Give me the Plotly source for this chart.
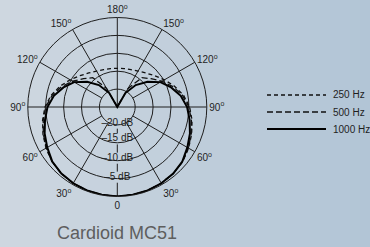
import plotly.graph_objects as go

# ---- data (dB), angles 0..360 every 10 degrees ----
theta = list(range(0, 361, 10))

hz250 = [0, -0.1, -0.2, -0.4, -0.7, -1.2, -2.0, -2.9, -3.8, -4.8, -6.2, -8.0, -9.8, -11.4, -12.6, -13.4, -13.9, -14.1,
         -14.2,
         -14.1, -13.9, -13.4, -12.6, -11.4, -9.8, -8.0, -6.2, -4.8, -3.8, -2.9, -2.0, -1.2, -0.7, -0.4, -0.2, -0.1, 0]
hz500 = [0, -0.1, -0.2, -0.4, -0.7, -1.2, -2.1, -3.0, -4.0, -5.0, -6.5, -8.4, -10.6, -12.7, -14.3, -19.0, -25, -25,
         -25,
         -25, -25, -19.0, -14.3, -12.7, -10.6, -8.4, -6.5, -5.0, -4.0, -3.0, -2.1, -1.2, -0.7, -0.4, -0.2, -0.1, 0]
hz1000 = [0, -0.1, -0.2, -0.4, -0.7, -1.3, -2.4, -3.4, -4.5, -5.5, -7.0, -9.0, -11.1, -14.0, -17.0, -20.5, -25, -25,
          -25,
          -25, -25, -20.5, -17.0, -14.0, -11.1, -9.0, -7.0, -5.5, -4.5, -3.4, -2.4, -1.3, -0.7, -0.4, -0.2, -0.1, 0]

series_names = ["250 Hz", "500 Hz", "1000 Hz"]

ang_ticks = [0, 30, 60, 90, 120, 150, 180, 210, 240, 270, 300, 330]
ang_labels = ["0", "30<sup>o</sup>", "60<sup>o</sup>", "90<sup>o</sup>", "120<sup>o</sup>", "150<sup>o</sup>",
              "180<sup>o</sup>", "150<sup>o</sup>", "120<sup>o</sup>", "90<sup>o</sup>", "60<sup>o</sup>",
              "30<sup>o</sup>"]

ring_vals = [-20, -15, -10, -5]
ring_labels = ["\u201320 dB", "\u201315 dB", "\u201310 dB", "\u20135 dB"]
ring_label_r = [-20.5, -16.1, -10.7, -5.4]

R_MIN, R_MAX = -25, 0
INK = "#1e1e1e"
FONT = "Liberation Sans, Arial"
styles = [dict(color="#111", width=1.3, dash="4px,3px"),
          dict(color="#111", width=1.3, dash="6px,3px"),
          dict(color="#000", width=2)]

W, H = 370, 247
cx, cy, R = 117.3, 107.0, 89.5

fig = go.Figure()

# background gradient strips (styling only)
c0 = (206, 215, 224)
c1 = (178, 197, 214)
n = 37
for i in range(n):
    t = i / (n - 1)
    col = "rgb(%d,%d,%d)" % tuple(round(a + (b - a) * t) for a, b in zip(c0, c1))
    fig.add_shape(type="rect", xref="paper", yref="paper", x0=i / n, x1=(i + 1) / n + 0.002, y0=0, y1=1,
                  line=dict(width=0), fillcolor=col, layer="below")

# spokes: long ones through centre, others stop at the inner ring
sp_r, sp_t = [], []
for a in [30, 60, 120, 150, 210, 240, 300, 330]:
    sp_r += [ring_vals[0], R_MAX, None]
    sp_t += [a, a, None]
for a in [90, 180, 270]:
    sp_r += [R_MIN, R_MAX, None]
    sp_t += [a, a, None]
# 0-degree spoke broken around the dB labels
gap = 1.55
bounds = [R_MIN] + ring_label_r + [R_MAX]
for i in range(1, len(bounds) - 1):
    lo = bounds[i] + gap
    hi = (bounds[i + 1] - gap) if i + 1 < len(bounds) - 1 else R_MAX
    sp_r += [lo, hi, None]
    sp_t += [0, 0, None]

fig.add_trace(go.Scatterpolar(r=sp_r, theta=sp_t, mode="lines", line=dict(color=INK, width=1),
                              showlegend=False, hoverinfo="skip"))

fig.add_trace(go.Scatterpolar(r=ring_label_r, theta=[0] * len(ring_label_r), mode="text", text=ring_labels,
                              textposition="middle center",
                              textfont=dict(family=FONT, size=10, color=INK),
                              showlegend=False, hoverinfo="skip", cliponaxis=False))

for name, vals, st in zip(series_names, [hz250, hz500, hz1000], styles):
    fig.add_trace(go.Scatterpolar(r=vals, theta=theta, mode="lines", name=name, line=st, showlegend=False))

# legend drawn by hand (samples + labels) so it sits exactly where the reference has it
annotations = []
for name, st, yc in zip(series_names, styles, [95, 112, 129]):
    fig.add_shape(type="line", xref="paper", yref="paper", x0=267 / W, x1=326 / W, y0=1 - yc / H, y1=1 - yc / H,
                  line=st)
    annotations.append(dict(text=name, x=331 / W, y=1 - yc / H, xref="paper", yref="paper", showarrow=False,
                            xanchor="left", yanchor="middle", font=dict(size=10, color=INK, family=FONT)))

annotations.append(dict(text="Cardioid MC51", x=cx / W, y=1 - 233 / H, xref="paper", yref="paper",
                        showarrow=False, xanchor="center", yanchor="middle",
                        font=dict(size=18, color="#5e5e5e", family=FONT)))

fig.update_layout(
    width=W, height=H,
    margin=dict(l=0, r=0, t=0, b=0, autoexpand=False),
    showlegend=False,
    paper_bgcolor="rgb(192,206,219)",
    font=dict(family=FONT, color=INK, size=10),
    polar=dict(
        domain=dict(x=[(cx - R) / W, (cx + R) / W], y=[1 - (cy + R) / H, 1 - (cy - R) / H]),
        bgcolor="rgba(0,0,0,0)",
        angularaxis=dict(rotation=-90, direction="clockwise", tickmode="array", tickvals=ang_ticks,
                         ticktext=ang_labels, showgrid=False, showline=True, linecolor=INK, linewidth=1,
                         ticks="", tickfont=dict(size=10, color=INK)),
        radialaxis=dict(range=[R_MIN, R_MAX], tickmode="array", tickvals=ring_vals, showticklabels=False,
                        ticks="", showline=False, gridcolor=INK, gridwidth=1),
    ),
    annotations=annotations,
)

fig.write_html("out.html", config={"displayModeBar": False},
               post_script="document.body.style.margin='0';document.body.style.overflow='hidden';")
